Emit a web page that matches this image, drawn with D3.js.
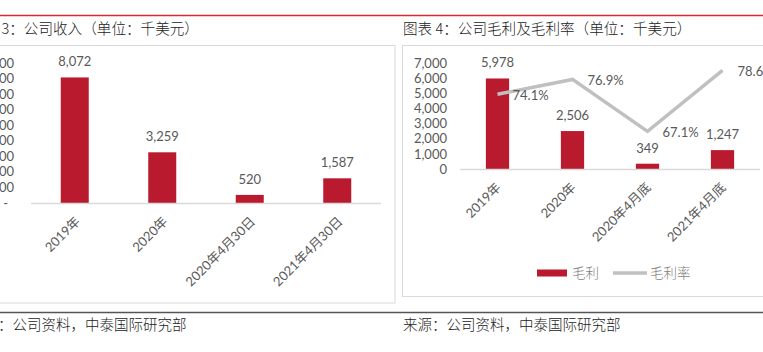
<!DOCTYPE html>
<html>
<head>
<meta charset="utf-8">
<script src="https://cdn.jsdelivr.net/npm/d3@7"></script>
<style>
  body { margin: 0; background: #fff; }
  svg { display: block; font-family: Lato, "Noto Sans CJK SC", sans-serif; }
  .cjk { font-family: "Noto Sans CJK SC", sans-serif; font-weight: 300; }
</style>
</head>
<body>
<script>
// data
var revCats = ["2019年", "2020年", "2020年4月30日", "2021年4月30日"];
var revValues = [8072, 3259, 520, 1587];
var revTicks = [0, 1000, 2000, 3000, 4000, 5000, 6000, 7000, 8000, 9000];

var gpCats = ["2019年", "2020年", "2020年4月底", "2021年4月底"];
var gpValues = [5978, 2506, 349, 1247];
var gpMargin = [74.1, 76.9, 67.1, 78.6];
var gpTicks = [0, 1000, 2000, 3000, 4000, 5000, 6000, 7000];

var W = 763, H = 352;
var red = "#BA1A2E", grayLine = "#C0C0C0", txt = "#595959";

var svg = d3.select("body").append("svg")
    .attr("width", W)
    .attr("height", H);

// page frame lines
svg.append("line").attr("x1", 0).attr("x2", W).attr("y1", 15.5).attr("y2", 15.5)
    .attr("stroke", "#E0282E").attr("stroke-width", 1.3);
svg.append("line").attr("x1", 0).attr("x2", W).attr("y1", 312.5).attr("y2", 312.5)
    .attr("stroke", "#555").attr("stroke-width", 1.5);

// titles + sources
svg.append("text").attr("class", "cjk").attr("x", -31).attr("y", 34).attr("font-size", "14.6px").attr("fill", "#222")
    .text("图表 3：公司收入（单位：千美元）");
svg.append("text").attr("class", "cjk").attr("x", 403).attr("y", 34).attr("font-size", "14.6px").attr("fill", "#222")
    .text("图表 4：公司毛利及毛利率（单位：千美元）");
svg.append("text").attr("class", "cjk").attr("x", -31).attr("y", 330).attr("font-size", "14.5px").attr("fill", "#222")
    .text("来源：公司资料，中泰国际研究部");
svg.append("text").attr("class", "cjk").attr("x", 403).attr("y", 330).attr("font-size", "14.5px").attr("fill", "#222")
    .text("来源：公司资料，中泰国际研究部");

// chart boxes
svg.append("rect").attr("x", -40).attr("y", 45.5).attr("width", 435).attr("height", 257.5)
    .attr("fill", "none").attr("stroke", "#D9D9D9");
svg.append("rect").attr("x", 402.5).attr("y", 45.5).attr("width", 380).attr("height", 251)
    .attr("fill", "none").attr("stroke", "#D9D9D9");

// ---------- left: revenue ----------
var xL = d3.scaleBand().domain(revCats).range([31, 381]);
var yL = d3.scaleLinear().domain([0, 9000]).range([203, 63]);

var left = svg.append("g");

left.selectAll(".ytick").data(revTicks).enter().append("text")
    .attr("class", "ytick")
    .attr("x", function(d){ return d === 0 ? 8 : 14; })
    .attr("y", function(d){ return yL(d); })
    .attr("dy", "0.35em")
    .attr("text-anchor", "end")
    .attr("font-size", "13px")
    .attr("fill", txt)
    .text(function(d){ return d === 0 ? "-" : d3.format(",")(d); });

var bwL = xL.bandwidth() * 0.32;
left.selectAll(".bar").data(revValues).enter().append("rect")
    .attr("class", "bar")
    .attr("x", function(d, i){ return xL(revCats[i]) + xL.bandwidth() / 2 - bwL / 2; })
    .attr("y", function(d){ return yL(d); })
    .attr("width", bwL)
    .attr("height", function(d){ return yL(0) - yL(d); })
    .attr("fill", red);

left.append("line")
    .attr("x1", xL.range()[0]).attr("x2", xL.range()[1])
    .attr("y1", yL(0) + 0.5).attr("y2", yL(0) + 0.5)
    .attr("stroke", "#D9D9D9").attr("stroke-width", 1.5);

left.selectAll(".lbl").data(revValues).enter().append("text")
    .attr("class", "lbl")
    .attr("x", function(d, i){ return xL(revCats[i]) + xL.bandwidth() / 2; })
    .attr("y", function(d){ return yL(d) - 11; })
    .attr("text-anchor", "middle")
    .attr("font-size", "13px")
    .attr("fill", txt)
    .text(function(d){ return d3.format(",")(d); });

left.selectAll(".xlbl").data(revCats).enter().append("text")
    .attr("class", "xlbl")
    .attr("transform", function(d){
        return "translate(" + (xL(d) + xL.bandwidth() / 2 + 3) + "," + (yL(0) + 16) + ") rotate(-45)";
    })
    .attr("dy", "0.35em")
    .attr("text-anchor", "end")
    .attr("font-size", "13px")
    .attr("fill", txt)
    .text(function(d){ return d; });

// ---------- right: gross profit ----------
var xR = d3.scaleBand().domain(gpCats).range([460, 760]);
var yR = d3.scaleLinear().domain([0, 7000]).range([169, 63]);
var yR2 = d3.scaleLinear().domain([60, 80]).range([169, 63]);

var right = svg.append("g");

var yAxisR = d3.axisLeft(yR).tickValues(gpTicks).tickSize(0).tickPadding(0)
    .tickFormat(d3.format(","));
right.append("g")
    .attr("transform", "translate(447,0)")
    .call(yAxisR)
    .call(function(g){ g.select(".domain").remove(); })
    .selectAll("text")
        .attr("font-size", "13px")
        .attr("font-family", "Lato, sans-serif")
        .attr("fill", txt);

var bwR = xR.bandwidth() * 0.31;
right.selectAll(".bar").data(gpValues).enter().append("rect")
    .attr("class", "bar")
    .attr("x", function(d, i){ return xR(gpCats[i]) + xR.bandwidth() / 2 - bwR / 2; })
    .attr("y", function(d){ return yR(d); })
    .attr("width", bwR)
    .attr("height", function(d){ return yR(0) - yR(d); })
    .attr("fill", red);

right.append("line")
    .attr("x1", xR.range()[0]).attr("x2", xR.range()[1])
    .attr("y1", yR(0) + 0.5).attr("y2", yR(0) + 0.5)
    .attr("stroke", "#D9D9D9").attr("stroke-width", 1.5);

var line = d3.line()
    .x(function(d, i){ return xR(gpCats[i]) + xR.bandwidth() / 2; })
    .y(function(d){ return yR2(d); });

right.append("path")
    .datum(gpMargin)
    .attr("d", line)
    .attr("fill", "none")
    .attr("stroke", grayLine)
    .attr("stroke-width", 3.5);

right.selectAll(".lbl").data(gpValues).enter().append("text")
    .attr("class", "lbl")
    .attr("x", function(d, i){ return xR(gpCats[i]) + xR.bandwidth() / 2; })
    .attr("y", function(d){ return yR(d) - 11; })
    .attr("text-anchor", "middle")
    .attr("font-size", "13px")
    .attr("fill", txt)
    .text(function(d){ return d3.format(",")(d); });

right.selectAll(".plbl").data(gpMargin).enter().append("text")
    .attr("class", "plbl")
    .attr("x", function(d, i){ return xR(gpCats[i]) + xR.bandwidth() / 2 + 15; })
    .attr("y", function(d){ return yR2(d) + 1; })
    .attr("dy", "0.35em")
    .attr("font-size", "13px")
    .attr("fill", txt)
    .text(function(d){ return d3.format(".1f")(d) + "%"; });

right.selectAll(".xlbl").data(gpCats).enter().append("text")
    .attr("class", "xlbl")
    .attr("transform", function(d){
        return "translate(" + (xR(d) + xR.bandwidth() / 2 + 1) + "," + (yR(0) + 16) + ") rotate(-45)";
    })
    .attr("dy", "0.35em")
    .attr("text-anchor", "end")
    .attr("font-size", "13px")
    .attr("fill", txt)
    .text(function(d){ return d; });

// legend
var legend = right.append("g").attr("transform", "translate(537,273)");
legend.append("rect").attr("x", 0).attr("y", -3.5).attr("width", 30).attr("height", 7).attr("fill", red);
legend.append("text").attr("class", "cjk").attr("x", 35).attr("dy", "0.35em").attr("font-size", "13.5px").attr("fill", "#7F7F7F").text("毛利");
legend.append("line").attr("x1", 76).attr("x2", 110).attr("y1", 0).attr("y2", 0)
    .attr("stroke", grayLine).attr("stroke-width", 3.5);
legend.append("text").attr("class", "cjk").attr("x", 113).attr("dy", "0.35em").attr("font-size", "13.5px").attr("fill", "#7F7F7F").text("毛利率");
</script>
</body>
</html>
